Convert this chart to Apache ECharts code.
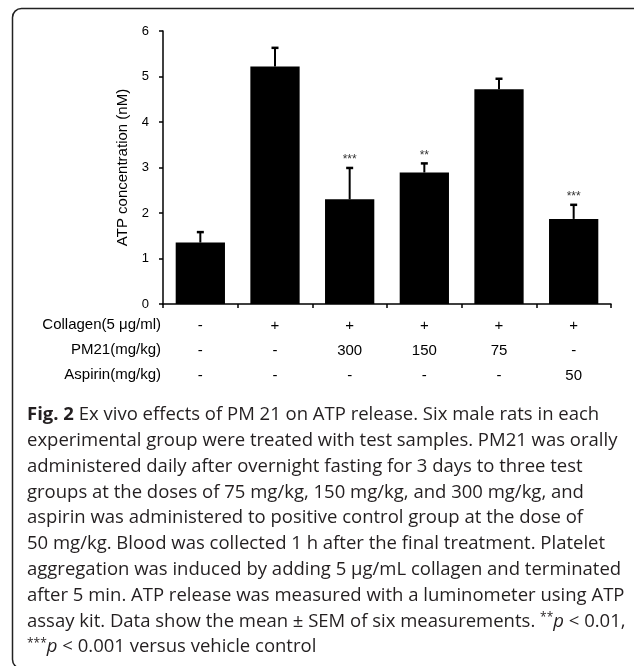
<!DOCTYPE html>
<html>
<head>
<meta charset="utf-8">
<script src="https://cdn.jsdelivr.net/npm/echarts@6/dist/echarts.min.js"></script>
<style>
html,body{margin:0;padding:0;background:#fff;}
#chart{width:634px;height:666px;}
</style>
</head>
<body>
<div id="chart"></div>
<script>
// ---- data ----
var groups = ['G1', 'G2', 'G3', 'G4', 'G5', 'G6'];
var collagen = ['-', '+', '+', '+', '+', '+'];
var pm21 = ['-', '-', '300', '150', '75', '-'];
var aspirin = ['-', '-', '-', '-', '-', '50'];
var rowHeaders = ['Collagen(5 \u03bcg/ml)', 'PM21(mg/kg)', 'Aspirin(mg/kg)'];
var means = [1.35, 5.22, 2.30, 2.89, 4.72, 1.87];
var sems = [0.23, 0.41, 0.69, 0.20, 0.23, 0.31];
var sigMarks = ['', '', '***', '**', '', '***'];
var yMin = 0, yMax = 6, yInterval = 1;
var yAxisTitle = 'ATP concentration (nM)';
var captionLines = [
  '{b|Fig. 2} Ex vivo effects of PM 21 on ATP release. Six male rats in each',
  'experimental group were treated with test samples. PM21 was orally',
  'administered daily after overnight fasting for 3 days to three test',
  'groups at the doses of 75 mg/kg, 150 mg/kg, and 300 mg/kg, and',
  'aspirin was administered to positive control group at the dose of',
  '50 mg/kg. Blood was collected 1 h after the final treatment. Platelet',
  'aggregation was induced by adding 5 \u03bcg/mL collagen and terminated',
  'after 5 min. ATP release was measured with a luminometer using ATP',
  'assay kit. Data show the mean \u00b1 SEM of six measurements. {s|**}{i|p} < 0.01,',
  '{s|***}{i|p} < 0.001 versus vehicle control'
];

var chart = echarts.init(document.getElementById('chart'), null, {renderer: 'canvas'});

var labelsForCat = groups.map(function (g, i) {
  return collagen[i] + '\n' + pm21[i] + '\n' + aspirin[i];
});

var errData = groups.map(function (g, i) { return [i, means[i], means[i] + sems[i]]; });

var capFont = 18.5;
var graphics = [];
graphics.push({
  type: 'rect', silent: true, z: 0,
  shape: {x: 12.5, y: 8.5, width: 640, height: 660, r: 9},
  style: {fill: 'none', stroke: '#222', lineWidth: 1.5}
});
var rowYs = [325, 350, 375];
rowHeaders.forEach(function (t, k) {
  graphics.push({
    type: 'text', silent: true,
    x: 161, y: rowYs[k],
    style: {text: t, fill: '#000', font: '15px "Liberation Sans", Arial, sans-serif',
      textAlign: 'right', textVerticalAlign: 'middle'}
  });
});
captionLines.forEach(function (t, k) {
  graphics.push({
    type: 'text', silent: true,
    x: 27, y: 415 + k * 25.8,
    style: {
      text: t, fill: '#231f20',
      font: capFont + 'px "Open Sans", sans-serif',
      textVerticalAlign: 'middle',
      rich: {
        b: {fontWeight: 'bold', fontSize: capFont, fontFamily: 'Open Sans', fill: '#231f20'},
        i: {fontStyle: 'italic', fontSize: capFont, fontFamily: 'Open Sans', fill: '#231f20'},
        s: {fontSize: 12, fontFamily: 'Open Sans', fill: '#231f20', verticalAlign: 'top', padding: [0, 0, 7, 0]}
      }
    }
  });
});

var option = {
  animation: false,
  backgroundColor: '#fff',
  grid: {left: 163, right: 23, top: 31, bottom: 362, containLabel: false},
  xAxis: {
    type: 'category',
    data: labelsForCat,
    boundaryGap: true,
    axisLine: {lineStyle: {color: '#000', width: 1.5}},
    axisTick: {show: true, length: 4, lineStyle: {color: '#000', width: 1.5}, alignWithLabel: false},
    axisLabel: {
      color: '#000', fontSize: 15, fontFamily: '"Liberation Sans", Arial, sans-serif',
      lineHeight: 25, margin: 9, interval: 0
    },
    splitLine: {show: false}
  },
  yAxis: {
    type: 'value', min: yMin, max: yMax, interval: yInterval,
    name: yAxisTitle, nameLocation: 'middle', nameGap: 33,
    nameTextStyle: {color: '#000', fontSize: 15, fontFamily: '"Liberation Sans", Arial, sans-serif'},
    axisLine: {show: true, lineStyle: {color: '#000', width: 1.5}},
    axisTick: {show: true, length: 4, lineStyle: {color: '#000', width: 1.5}},
    axisLabel: {color: '#000', fontSize: 13, fontFamily: '"Liberation Sans", Arial, sans-serif', margin: 14},
    splitLine: {show: false}
  },
  series: [
    {
      type: 'bar', data: means, barWidth: '66%',
      itemStyle: {color: '#000'}, z: 2
    },
    {
      type: 'custom', z: 3,
      data: errData,
      renderItem: function (params, api) {
        var x = api.value(0);
        var lo = api.coord([x, api.value(1)]);
        var hi = api.coord([x, api.value(2)]);
        var cap = 3.5;
        var children = [
          {type: 'line', shape: {x1: lo[0], y1: lo[1], x2: hi[0], y2: hi[1]}, style: {stroke: '#000', lineWidth: 2}},
          {type: 'line', shape: {x1: hi[0] - cap, y1: hi[1], x2: hi[0] + cap, y2: hi[1]}, style: {stroke: '#000', lineWidth: 2.5}}
        ];
        var s = sigMarks[params.dataIndex];
        if (s) {
          children.push({type: 'text', style: {
            text: s, x: hi[0], y: hi[1] - 8, textAlign: 'center', textVerticalAlign: 'middle',
            fill: '#333', font: '12px "Liberation Sans", Arial, sans-serif'
          }});
        }
        return {type: 'group', children: children};
      }
    }
  ],
  graphic: graphics
};
chart.setOption(option);
</script>
</body>
</html>
